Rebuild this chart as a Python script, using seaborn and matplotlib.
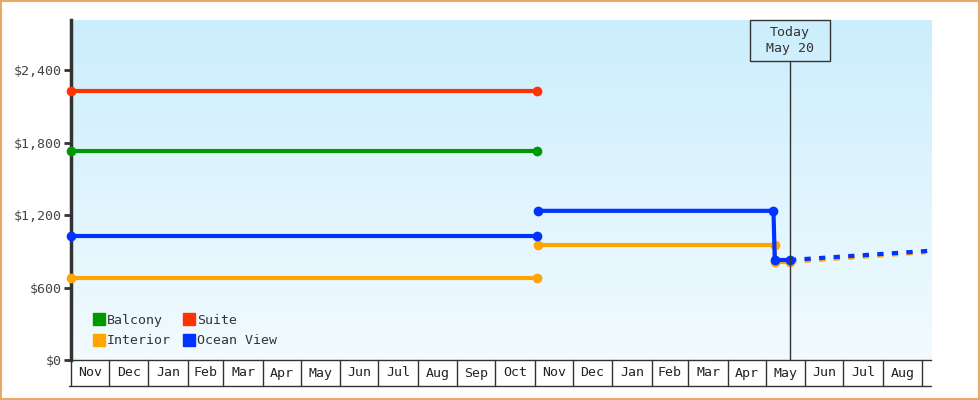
import numpy as np
import pandas as pd
import seaborn as sns
import matplotlib.pyplot as plt
from matplotlib.lines import Line2D
from matplotlib.patches import Rectangle
from matplotlib.ticker import FuncFormatter
import matplotlib.transforms as mtransforms

# price history per cabin (segments split by sailing period)
cabins = ["Balcony", "Interior", "Suite", "Ocean View"]
colors = ["#009900", "#ffa500", "#ff3300", "#0033ff"]

balcony_dates = [["2022-11-01", "2023-11-03"]]
balcony_prices = [[1730, 1730]]
suite_dates = [["2022-11-01", "2023-11-03"]]
suite_prices = [[2230, 2230]]
ocean_dates = [["2022-11-01", "2023-11-03"],
               ["2023-11-04", "2024-05-07", "2024-05-08", "2024-05-20"]]
ocean_prices = [[1025, 1025], [1235, 1235, 828, 828]]
interior_dates = [["2022-11-01", "2023-11-03"],
                  ["2023-11-04", "2024-05-08", "2024-05-08", "2024-05-20"]]
interior_prices = [[680, 680], [952, 952, 812, 812]]

# projected prices after today
forecast_cabins = ["Interior", "Ocean View"]
forecast_dates = [["2024-05-20", "2024-09-04"], ["2024-05-20", "2024-09-08"]]
forecast_prices = [[812, 893], [828, 905]]

today = "2024-05-20"
today_label = "Today\nMay 20"
yticks = [0, 600, 1200, 1800, 2400]
x_start, x_end = "2022-11-01", "2024-09-08"

rows = []
series = {
    "Balcony": (balcony_dates, balcony_prices),
    "Interior": (interior_dates, interior_prices),
    "Suite": (suite_dates, suite_prices),
    "Ocean View": (ocean_dates, ocean_prices),
}
for cabin, (dlist, plist) in series.items():
    for i, (ds, ps) in enumerate(zip(dlist, plist)):
        for d, p in zip(ds, ps):
            rows.append({"cabin": cabin, "seg": f"{cabin}-{i}", "date": pd.Timestamp(d), "price": p})
df = pd.DataFrame(rows)

frows = []
for cabin, ds, ps in zip(forecast_cabins, forecast_dates, forecast_prices):
    for d, p in zip(ds, ps):
        frows.append({"cabin": cabin, "date": pd.Timestamp(d), "price": p})
fdf = pd.DataFrame(frows)

sns.set_theme(style="white")
plt.rcParams["font.family"] = ["DejaVu Sans Mono"]
text_color = "#333333"
palette = dict(zip(cabins, colors))

fig = plt.figure(figsize=(9.8, 4), dpi=100, facecolor="white")
ax = fig.add_axes([71 / 980, 40 / 400, 860 / 980, 340 / 400])

# background gradient
grad = np.linspace(0, 1, 256).reshape(-1, 1)
top = np.array([204, 238, 252]) / 255
bot = np.array([242, 251, 255]) / 255
img = top * (1 - grad[..., None]) + bot * grad[..., None]
img = img.reshape(256, 1, 3)
ax.imshow(img, extent=[0, 1, 0, 1], transform=ax.transAxes, aspect="auto", zorder=0)

# forecast first so it sits below
sns.lineplot(data=fdf, x="date", y="price", hue="cabin", hue_order=forecast_cabins,
             palette=palette, estimator=None, sort=False, legend=False,
             linewidth=3, linestyle=(0, (1.5, 2)), ax=ax, zorder=3)

sns.lineplot(data=df, x="date", y="price", hue="cabin", units="seg", hue_order=cabins,
             palette=palette, estimator=None, sort=False, legend=False,
             linewidth=3, marker="o", markersize=7, markeredgewidth=0, ax=ax, zorder=4,
             clip_on=False)

ax.set_xlim(pd.Timestamp(x_start), pd.Timestamp(x_end))
ax.set_ylim(0, 2815)
ax.set_xlabel("")
ax.set_ylabel("")
ax.set_xticks([])
ax.set_yticks(yticks)
ax.yaxis.set_major_formatter(FuncFormatter(lambda v, p: f"${v:,.0f}"))
ax.tick_params(axis="y", direction="out", length=5, width=2, color=text_color,
               labelsize=9.5, labelcolor="#444444", pad=2, left=True)
for s in ["top", "right"]:
    ax.spines[s].set_visible(False)
ax.spines["left"].set_color(text_color)
ax.spines["left"].set_linewidth(2.5)
ax.spines["left"].set_zorder(2)
ax.spines["bottom"].set_color(text_color)
ax.spines["bottom"].set_linewidth(1)

# month label row below axis
row_h = 26 / 340
blend = mtransforms.blended_transform_factory(ax.transData, ax.transAxes)
bounds = pd.date_range(x_start, "2024-09-01", freq="MS")
for b in bounds:
    ax.plot([b, b], [0, -row_h], color=text_color, lw=1, transform=blend, clip_on=False)
for a, b in zip(bounds[:-1], bounds[1:]):
    mid = a + (b - a) / 2
    ax.text(mid, -row_h / 2, a.strftime("%b"), transform=blend, ha="center", va="center",
            fontsize=9.5, color="#222222")
ax.plot([-0.002, 1], [-row_h, -row_h], color=text_color, lw=1, transform=ax.transAxes, clip_on=False)

# today marker
t = pd.Timestamp(today)
box_h = 41 / 340
ax.plot([t, t], [0, 1 - box_h], color=text_color, lw=1, transform=blend, zorder=5)
fig.canvas.draw()
tx = ax.transData.transform((ax.convert_xunits(t), 0))[0] / 980
fig.patches.append(Rectangle((tx - 40 / 980, 339 / 400), 80 / 980, 41 / 400,
                             transform=fig.transFigure, fill=False, ec=text_color, lw=1))
fig.text(tx, 359.5 / 400, today_label, ha="center", va="center", fontsize=9.5,
         color=text_color, linespacing=1.3)

# legend
handles = [Line2D([], [], marker="s", ls="none", color=palette[c], markersize=9) for c in cabins]
ax.legend(handles, cabins, ncol=2, loc="lower left", bbox_to_anchor=(0.017, 0.018),
          frameon=False, fontsize=9.5, handletextpad=0.1, columnspacing=0.9,
          labelspacing=0.55, handlelength=1.0, borderpad=0, labelcolor=text_color)

# outer border
fig.patches.append(Rectangle((0.001, 0.002), 0.998, 0.996, transform=fig.transFigure,
                             fill=False, ec="#e8a866", lw=1.5))

fig.savefig("out.png", dpi=100, facecolor="white")
